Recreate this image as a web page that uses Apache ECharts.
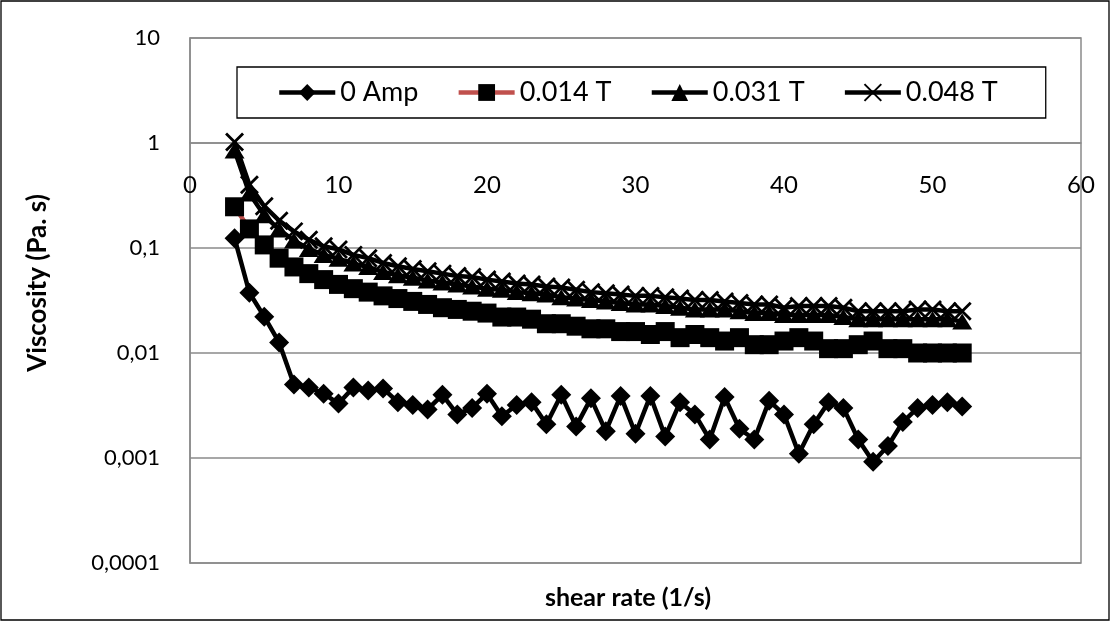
<!DOCTYPE html>
<html>
<head>
<meta charset="utf-8">
<script src="https://cdn.jsdelivr.net/npm/echarts@6/dist/echarts.min.js"></script>
<style>
  html, body { margin: 0; padding: 0; background: #fff; }
  #chart { width: 1113px; height: 623px; }
</style>
</head>
<body>
<div id="chart"></div>
<script>
// Shear rate (1/s)
const shearRate = [3, 4, 5, 6, 7, 8, 9, 10, 11, 12, 13, 14, 15, 16, 17, 18, 19, 20, 21, 22,
  23, 24, 25, 26, 27, 28, 29, 30, 31, 32, 33, 34, 35, 36, 37, 38, 39, 40, 41, 42,
  43, 44, 45, 46, 47, 48, 49, 50, 51, 52];

// Viscosity (Pa.s) per field
const amp0 = [0.124, 0.0375, 0.0222, 0.0126, 0.0050, 0.0047, 0.0041, 0.0033, 0.0047, 0.0044,
  0.0046, 0.0034, 0.0032, 0.0029, 0.0040, 0.0026, 0.0030, 0.0041, 0.0025, 0.0032,
  0.0034, 0.0021, 0.0040, 0.0020, 0.0037, 0.0018, 0.0039, 0.0017, 0.0039, 0.0016,
  0.0034, 0.0026, 0.0015, 0.0038, 0.0019, 0.0015, 0.0035, 0.0026, 0.0011, 0.0021,
  0.0034, 0.0030, 0.0015, 0.00092, 0.0013, 0.0022, 0.0030, 0.0032, 0.0034, 0.0031];

const t014 = [0.247, 0.152, 0.107, 0.080, 0.066, 0.057, 0.050, 0.045, 0.041, 0.038,
  0.035, 0.033, 0.031, 0.029, 0.027, 0.026, 0.025, 0.024, 0.022, 0.022,
  0.021, 0.019, 0.019, 0.018, 0.017, 0.017, 0.016, 0.016, 0.015, 0.016,
  0.014, 0.015, 0.014, 0.013, 0.014, 0.012, 0.012, 0.013, 0.014, 0.013,
  0.011, 0.011, 0.012, 0.013, 0.011, 0.011, 0.010, 0.010, 0.010, 0.010];

const t031 = [0.85, 0.33, 0.205, 0.150, 0.118, 0.098, 0.086, 0.079, 0.071, 0.066,
  0.059, 0.055, 0.052, 0.049, 0.047, 0.045, 0.043, 0.041, 0.040, 0.038,
  0.037, 0.036, 0.034, 0.033, 0.032, 0.031, 0.030, 0.029, 0.029, 0.028,
  0.027, 0.026, 0.026, 0.026, 0.025, 0.024, 0.024, 0.023, 0.023, 0.023,
  0.023, 0.022, 0.021, 0.021, 0.021, 0.021, 0.021, 0.021, 0.021, 0.020];

const t048 = [1.02, 0.40, 0.25, 0.182, 0.144, 0.120, 0.104, 0.097, 0.086, 0.080,
  0.072, 0.067, 0.063, 0.060, 0.057, 0.054, 0.053, 0.050, 0.048, 0.046,
  0.045, 0.043, 0.042, 0.040, 0.038, 0.037, 0.036, 0.035, 0.035, 0.034,
  0.033, 0.032, 0.032, 0.031, 0.030, 0.029, 0.029, 0.027, 0.028, 0.028,
  0.028, 0.027, 0.025, 0.025, 0.025, 0.025, 0.026, 0.026, 0.025, 0.025];

const seriesNames = ['0 Amp', '0.014 T', '0.031 T', '0.048 T'];
const xTicks = [0, 10, 20, 30, 40, 50, 60];
const yTickLabels = ['0,0001', '0,001', '0,01', '0,1', '1', '10'];

const FONT = 'Lato, "Open Sans", sans-serif';
const GRID_GREY = '#8a8a8a';

function pairs(ys) {
  return shearRate.map((x, i) => [x, ys[i]]);
}

const crossPath = 'path://M0,0L10,10M10,0L0,10';

const chart = echarts.init(document.getElementById('chart'), null, { renderer: 'canvas' });

chart.setOption({
  animation: false,
  backgroundColor: '#fff',
  textStyle: { fontFamily: FONT },
  grid: {
    left: 190, right: 32, top: 38, bottom: 60,
    show: true, borderColor: GRID_GREY, borderWidth: 1.5, backgroundColor: 'transparent'
  },
  legend: {
    left: 237, top: 67,
    padding: [12, 48, 12, 40],
    backgroundColor: '#fff',
    borderColor: '#000', borderWidth: 1.3,
    itemWidth: 56, itemHeight: 21, itemGap: 38,
    textStyle: { fontFamily: FONT, fontSize: 27, color: '#000' },
    lineStyle: { width: 4.5 },
    data: seriesNames
  },
  xAxis: {
    type: 'value',
    min: xTicks[0], max: xTicks[xTicks.length - 1], interval: 10,
    position: 'bottom',
    offset: -420,
    axisLine: { show: true, lineStyle: { color: GRID_GREY, width: 1.5 } },
    axisTick: { show: false },
    splitLine: { show: false },
    axisLabel: { fontSize: 24, color: '#000', margin: 30, fontFamily: FONT }
  },
  yAxis: {
    type: 'log', logBase: 10, min: 0.0001, max: 10,
    axisLine: { show: true, lineStyle: { color: GRID_GREY, width: 1.5 } },
    axisTick: { show: false },
    splitLine: { show: true, lineStyle: { color: GRID_GREY, width: 1.5 } },
    minorSplitLine: { show: false },
    axisLabel: {
      fontSize: 22, color: '#000', margin: 30, fontFamily: FONT,
      formatter: v => yTickLabels[Math.round(Math.log10(v)) + 4]
    }
  },
  graphic: [
    {
      type: 'rect', silent: true,
      shape: { x: 1, y: 1, width: 1108, height: 619 },
      style: { fill: 'none', stroke: '#000', lineWidth: 1.3 }
    },
    {
      type: 'text', silent: true,
      x: 38, y: 283, rotation: Math.PI / 2,
      style: {
        text: 'Viscosity (Pa. s)', fontFamily: FONT, fontWeight: 'bold', fontSize: 26,
        fill: '#000', align: 'center', verticalAlign: 'middle'
      }
    },
    {
      type: 'text', silent: true,
      x: 628, y: 598,
      style: {
        text: 'shear rate (1/s)', fontFamily: FONT, fontWeight: 'bold', fontSize: 25,
        fill: '#000', align: 'center', verticalAlign: 'middle'
      }
    }
  ],
  series: [
    {
      name: seriesNames[0], type: 'line', data: pairs(amp0),
      symbol: 'diamond', symbolSize: 20, showSymbol: true,
      lineStyle: { color: '#000', width: 4.5 },
      itemStyle: { color: '#000' }
    },
    {
      name: seriesNames[1], type: 'line', data: pairs(t014),
      symbol: 'rect', symbolSize: 19, showSymbol: true,
      lineStyle: { color: '#c0504d', width: 4.5 },
      itemStyle: { color: '#000' }
    },
    {
      name: seriesNames[2], type: 'line', data: pairs(t031),
      symbol: 'triangle', symbolSize: [20, 16], showSymbol: true,
      lineStyle: { color: '#000', width: 4.5 },
      itemStyle: { color: '#000' }
    },
    {
      name: seriesNames[3], type: 'line', data: pairs(t048),
      symbol: crossPath, symbolSize: 17, showSymbol: true,
      lineStyle: { color: '#000', width: 4.5 },
      itemStyle: { color: 'none', borderColor: '#000', borderWidth: 2.8 }
    }
  ]
});
</script>
</body>
</html>
